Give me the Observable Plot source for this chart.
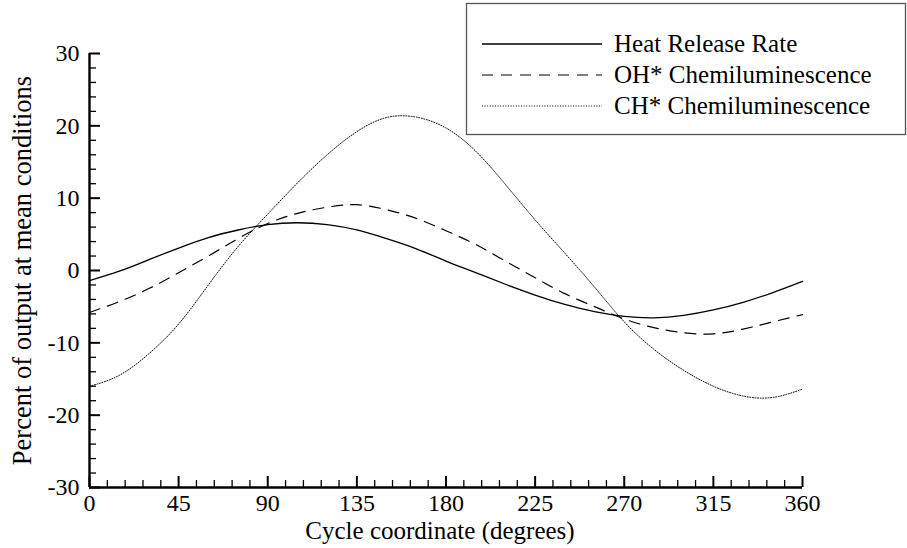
<!DOCTYPE html>
<html>
<head>
<meta charset="utf-8">
<script src="https://cdn.jsdelivr.net/npm/d3@7"></script>
<script src="https://cdn.jsdelivr.net/npm/@observablehq/plot@0.6"></script>
<style>
  body { margin: 0; background: #fff; }
  #chart { width: 907px; height: 548px; }
</style>
</head>
<body>
<div id="chart"></div>
<script>
// Cycle coordinate (degrees)
const degrees = [0, 15, 30, 45, 60, 75, 90, 105, 120, 135, 150, 165, 180, 195, 210, 225, 240, 255, 270, 285, 300, 315, 330, 345, 360];
// Percent of output at mean conditions
const heatRelease = [-1.4, -0.1, 1.5, 3.1, 4.55, 5.6, 6.35, 6.6, 6.35, 5.6, 4.4, 3.0, 1.3, -0.3, -1.9, -3.4, -4.7, -5.7, -6.35, -6.55, -6.2, -5.45, -4.4, -3.05, -1.5];
const ohChem = [-5.8, -4.3, -2.5, -0.3, 2.0, 4.4, 6.5, 7.9, 8.75, 9.1, 8.4, 7.2, 5.5, 3.6, 1.3, -1.0, -3.2, -5.0, -6.7, -7.9, -8.6, -8.75, -8.1, -7.1, -6.1];
const chChem = [-16.0, -14.5, -11.5, -7.4, -2.0, 3.3, 7.8, 12.1, 16.0, 19.2, 21.15, 21.2, 19.7, 16.5, 11.9, 7.0, 2.4, -2.3, -7.1, -10.9, -13.8, -16.0, -17.35, -17.55, -16.4];
const seriesNames = ["Heat Release Rate", "OH* Chemiluminescence", "CH* Chemiluminescence"];

const xMajorTicks = [0, 45, 90, 135, 180, 225, 270, 315, 360];
const xMinorTicks = d3.range(0, 361, 9).filter(d => d % 45 !== 0);
const yMajorTicks = [-30, -20, -10, 0, 10, 20, 30];
const yMinorTicks = d3.range(-30, 31, 2).filter(d => d % 10 !== 0);

const xTitle = "Cycle coordinate (degrees)";
const yTitle = "Percent of output at mean conditions";

const seriesValues = [heatRelease, ohChem, chChem];
const seriesStyles = [
  {strokeWidth: 1.3, strokeDasharray: null},
  {strokeWidth: 1.2, strokeDasharray: "11,8"},
  {strokeWidth: 1.0, strokeDasharray: "1,1.6"}
];
const rows = seriesNames.map((name, i) => degrees.map((d, j) => ({deg: d, value: seriesValues[i][j], series: name})));

const font = "'Liberation Serif', 'Times New Roman', serif";

const plot = Plot.plot({
  width: 907,
  height: 548,
  marginLeft: 89,
  marginRight: 105,
  marginTop: 53,
  marginBottom: 61,
  style: {fontFamily: font, fontSize: "24px", color: "black", background: "white", overflow: "visible"},
  x: {domain: [0, 360]},
  y: {domain: [-30, 30]},
  marks: [
    ...rows.map((data, i) => Plot.line(data, {x: "deg", y: "value", stroke: "black", curve: "natural", strokeWidth: seriesStyles[i].strokeWidth, strokeDasharray: seriesStyles[i].strokeDasharray})),
    // minor & major ticks pointing inward
    Plot.axisX(xMinorTicks, {tickSize: -7, strokeWidth: 1.3, fill: "none", label: null}),
    Plot.axisX(xMajorTicks, {tickSize: -11, strokeWidth: 2, fill: "none", label: null}),
    Plot.axisY(yMinorTicks, {tickSize: -7, strokeWidth: 1.3, fill: "none", label: null}),
    Plot.axisY(yMajorTicks, {tickSize: -11, strokeWidth: 2, fill: "none", label: null}),
    // tick labels
    Plot.axisX(xMajorTicks, {tickSize: 0, tickPadding: 6, tickFormat: d => String(d), fontSize: 24, label: null}),
    Plot.axisY(yMajorTicks, {tickSize: 0, tickPadding: 10, tickFormat: d => String(d), fontSize: 24, label: null}),
    // axis lines
    Plot.ruleX([0], {stroke: "black", strokeWidth: 2.4}),
    Plot.ruleY([-30], {stroke: "black", strokeWidth: 2.4}),
    // axis titles
    Plot.text([xTitle], {text: d => d, frameAnchor: "bottom", dy: 43, dx: -6, fontSize: 25, textAnchor: "middle", lineAnchor: "middle"}),
    Plot.text([yTitle], {text: d => d, frameAnchor: "left", dx: -67, rotate: -90, fontSize: 26.5, textAnchor: "middle", lineAnchor: "middle"})
  ]
});

document.getElementById("chart").appendChild(plot);

// Legend box (top right, overlapping the plot area)
const svg = d3.select(plot);
const lg = svg.append("g").attr("font-family", font).attr("font-size", 25).attr("text-anchor", "start");
lg.append("rect")
  .attr("x", 466.5).attr("y", 3.5).attr("width", 439).attr("height", 131)
  .attr("fill", "white").attr("stroke", "#555").attr("stroke-width", 1.3);
seriesNames.forEach((name, i) => {
  const baseline = 52 + i * 31;
  lg.append("line")
    .attr("x1", 482).attr("x2", 602)
    .attr("y1", baseline - 8).attr("y2", baseline - 8)
    .attr("stroke", "black")
    .attr("stroke-width", seriesStyles[i].strokeWidth)
    .attr("stroke-dasharray", seriesStyles[i].strokeDasharray);
  lg.append("text")
    .attr("x", 614).attr("y", baseline)
    .attr("text-anchor", "start")
    .attr("fill", "black")
    .text(name);
});
</script>
</body>
</html>
